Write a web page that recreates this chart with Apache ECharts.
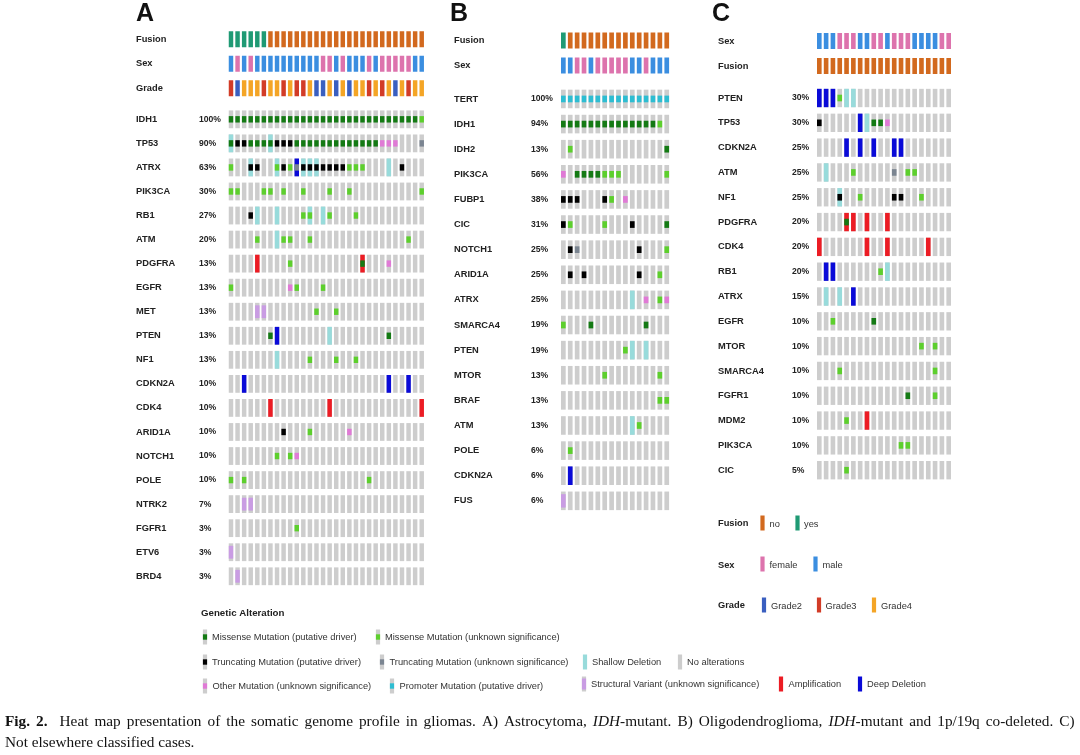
<!DOCTYPE html>
<html><head><meta charset="utf-8">
<script src="https://cdn.jsdelivr.net/npm/echarts@6/dist/echarts.min.js"></script>
<style>html,body{margin:0;padding:0;background:#fff}#c{width:1080px;height:755px}</style>
</head><body><div id="c"></div><script>
// ---------------- DATA ----------------
// Alteration codes: M missense driver, m missense unknown, T truncating driver, t truncating unknown,
// o other mutation, p promoter mutation, v structural variant, s shallow deletion, A amplification, D deep deletion
const A_genes = ['IDH1','TP53','ATRX','PIK3CA','RB1','ATM','PDGFRA','EGFR','MET','PTEN','NF1','CDKN2A','CDK4','ARID1A','NOTCH1','POLE','NTRK2','FGFR1','ETV6','BRD4'];
const A_pct = ['100%','90%','63%','30%','27%','20%','13%','13%','13%','13%','13%','10%','10%','10%','10%','10%','7%','3%','3%','3%'];
const A_alts = [
 '0:M 1:M 2:M 3:M 4:M 5:M 6:M 7:M 8:M 9:M 10:M 11:M 12:M 13:M 14:M 15:M 16:M 17:M 18:M 19:M 20:M 21:M 22:M 23:M 24:M 25:M 26:M 27:M 28:M 29:m',
 '0:sM 1:T 2:T 3:M 4:M 5:M 6:sM 7:T 8:T 9:T 10:M 11:M 12:M 13:M 14:M 15:M 16:M 17:M 18:M 19:M 20:M 21:M 22:M 23:o 24:o 25:o 29:t',
 '0:m 3:sT 4:T 7:sm 8:T 9:m 10:Dt 11:sT 12:sT 13:sT 14:T 15:T 16:T 17:T 18:m 19:m 20:m 24:s 26:T',
 '0:m 1:m 5:m 6:m 8:m 11:m 15:m 18:m 29:m',
 '3:T 4:s 7:s 11:m 12:sm 14:s 15:m 19:m',
 '4:m 7:s 8:m 9:m 12:m 27:m',
 '4:A 9:m 20:AM 24:o',
 '0:m 9:o 10:m 14:m',
 '4:v 5:v 13:m 16:m',
 '6:M 7:D 15:s 24:M',
 '7:s 12:m 16:m 19:m',
 '2:D 24:D 27:D',
 '6:A 15:A 29:A',
 '8:T 12:m 18:o',
 '7:m 9:m 10:o',
 '0:m 2:m 21:m',
 '2:v 3:v',
 '10:m',
 '0:v',
 '1:v'
];
const A_tracks = ['Fusion','Sex','Grade'];
const A_fusion = 'YYYYYYNNNNNNNNNNNNNNNNNNNNNNNN'.split('');
const A_sex    = 'MFMFMMMMMMMMMMFFMFMMMFMFFFFFMM'.split('');
const A_grade  = '324443443433422424244343424344'.split('');

const B_genes = ['TERT','IDH1','IDH2','PIK3CA','FUBP1','CIC','NOTCH1','ARID1A','ATRX','SMARCA4','PTEN','MTOR','BRAF','ATM','POLE','CDKN2A','FUS'];
const B_pct = ['100%','94%','13%','56%','38%','31%','25%','25%','25%','19%','19%','13%','13%','13%','6%','6%','6%'];
const B_alts = [
 '0:p 1:p 2:p 3:p 4:p 5:p 6:p 7:p 8:p 9:p 10:p 11:p 12:p 13:p 14:p 15:p',
 '0:M 1:M 2:M 3:M 4:M 5:M 6:M 7:M 8:M 9:M 10:M 11:M 12:M 13:M 14:m',
 '1:m 15:M',
 '0:o 2:M 3:M 4:M 5:M 6:m 7:m 8:m 15:m',
 '0:T 1:T 2:T 6:T 7:m 9:o',
 '0:T 1:m 6:m 10:T 15:M',
 '1:T 2:t 11:T 15:m',
 '1:T 3:T 11:T 14:m',
 '10:s 12:o 14:m 15:o',
 '0:m 4:M 12:M',
 '9:m 10:s 12:s',
 '6:m 14:m',
 '14:m 15:m',
 '10:s 11:m',
 '1:m',
 '1:D',
 '0:v'
];
const B_tracks = ['Fusion','Sex'];
const B_fusion = 'YNNNNNNNNNNNNNNN'.split('');
const B_sex    = 'MMFFMFFFFFMMFMMM'.split('');

const C_genes = ['PTEN','TP53','CDKN2A','ATM','NF1','PDGFRA','CDK4','RB1','ATRX','EGFR','MTOR','SMARCA4','FGFR1','MDM2','PIK3CA','CIC'];
const C_pct = ['30%','30%','25%','25%','25%','20%','20%','20%','15%','10%','10%','10%','10%','10%','10%','5%'];
const C_alts = [
 '0:D 1:D 2:D 3:m 4:s 5:s',
 '0:T 6:D 7:s 8:M 9:M 10:o',
 '4:D 6:D 8:D 11:D 12:D',
 '1:s 5:m 11:t 13:m 14:m',
 '3:sT 6:m 11:T 12:T 15:m',
 '4:AM 5:A 7:A 10:A',
 '0:A 7:A 10:A 16:A',
 '1:D 2:D 9:m 10:s',
 '1:s 3:s 5:D',
 '2:m 8:M',
 '15:m 17:m',
 '3:m 17:m',
 '13:M 17:m',
 '4:m 7:A',
 '12:m 13:m',
 '4:m'
];
const C_tracks = ['Sex','Fusion'];
const C_sex    = 'MMMFFFMMFFMFFFMMMMFF'.split('');
const C_fusion = 'NNNNNNNNNNNNNNNNNNNN'.split('');

// ---------------- STYLE ----------------
const GRAY = '#cdcdcd';
const MUT_COLORS = {M:'#147a14', m:'#5dcf2d', T:'#000000', t:'#7b8591', o:'#e07ad6', p:'#2dbdd2', v:'#c99ce3'};
const CNA_COLORS = {s:'#98dbdb', A:'#ec1c24', D:'#0a0ad8'};
const FUSION_COLORS = {Y:'#1f9a74', N:'#d2691e'};
const SEX_COLORS = {F:'#dd73ad', M:'#3b8ee0'};
const GRADE_COLORS = {'2':'#3a5fc0','3':'#d23c27','4':'#f4a526'};
const SANS = 'Liberation Sans, Arial, sans-serif';

function parseAlts(rows, ncols){
  const data=[], cells=[];
  rows.forEach((str,r)=>{
    const map={};
    str.trim().split(/\s+/).filter(Boolean).forEach(tok=>{const [c,code]=tok.split(':'); map[+c]=code;});
    for(let c=0;c<ncols;c++){
      const code=map[c]||''; let cna='',mut='';
      for(const ch of code){ if('sAD'.includes(ch)) cna=ch; else mut=ch; }
      data.push([c,r]); cells.push({cna,mut});
    }
  });
  return {data,cells};
}
function geneRender(cells){
  return function(params, api){
    const cell = cells[params.dataIndex];
    const p = api.coord([api.value(0), api.value(1)]);
    const s = api.size([1,1]);
    const w = s[0]*0.68, h = s[1]*0.74;
    const x = p[0]-w/2, y = p[1]-h/2;
    const ch = [{type:'rect', shape:{x,y,width:w,height:h}, style:{fill:GRAY}}];
    if(cell.cna) ch.push({type:'rect', shape:{x,y,width:w,height:h}, style:{fill:CNA_COLORS[cell.cna]}});
    if(cell.mut){
      const mh = cell.mut==='v' ? h*0.72 : h*0.36;
      ch.push({type:'rect', shape:{x, y:p[1]-mh/2, width:w, height:mh}, style:{fill:MUT_COLORS[cell.mut]}});
    }
    return {type:'group', children:ch};
  };
}
function trackRender(rows){
  return function(params, api){
    const c = api.value(0), r = api.value(1);
    const p = api.coord([c,r]);
    const s = api.size([1,1]);
    const w = s[0]*0.68, h = 16;
    return {type:'rect', shape:{x:p[0]-w/2, y:p[1]-h/2, width:w, height:h}, style:{fill:rows[r][1][rows[r][0][c]]}};
  };
}
function trackData(rows, ncols){
  const d=[]; rows.forEach((_,r)=>{for(let c=0;c<ncols;c++) d.push([c,r]);}); return d;
}
const range = n => Array.from({length:n},(_,i)=>i);

const panels = [
  {ncols:30, left:227.7, width:197.3, tTop:27, tH:73.5, gTop:107.3, gH:481, labW:63, margin:91.7,
   genes:A_genes, pct:A_pct, alts:A_alts, tracks:A_tracks,
   trackRows:[[A_fusion,FUSION_COLORS],[A_sex,SEX_COLORS],[A_grade,GRADE_COLORS]]},
  {ncols:16, left:559.9, width:110.3, tTop:28, tH:50, gTop:86.4, gH:427, labW:77, margin:105.9,
   genes:B_genes, pct:B_pct, alts:B_alts, tracks:B_tracks,
   trackRows:[[B_fusion,FUSION_COLORS],[B_sex,SEX_COLORS]]},
  {ncols:20, left:815.9, width:136.2, tTop:28.5, tH:50, gTop:85.6, gH:397, labW:74, margin:97.9,
   genes:C_genes, pct:C_pct, alts:C_alts, tracks:C_tracks,
   trackRows:[[C_sex,SEX_COLORS],[C_fusion,FUSION_COLORS]]}
];

const grid=[], xAxis=[], yAxis=[], series=[];
panels.forEach((P)=>{
  const ti = grid.length;
  grid.push({left:P.left, top:P.tTop, width:P.width, height:P.tH});
  grid.push({left:P.left, top:P.gTop, width:P.width, height:P.gH});
  [ti, ti+1].forEach(gi=>xAxis.push({type:'category', gridIndex:gi, data:range(P.ncols), show:false}));
  yAxis.push({type:'category', gridIndex:ti, data:P.tracks, inverse:true,
    axisLine:{show:false}, axisTick:{show:false}, splitLine:{show:false},
    axisLabel:{interval:0, align:'left', margin:P.margin, fontFamily:SANS, fontWeight:'bold', fontSize:9.3, color:'#222'}});
  yAxis.push({type:'category', gridIndex:ti+1, data:P.genes, inverse:true,
    axisLine:{show:false}, axisTick:{show:false}, splitLine:{show:false},
    axisLabel:{interval:0, align:'left', margin:P.margin,
      formatter:(v,i)=>'{g|'+v+'}{p|'+P.pct[i]+'}',
      rich:{g:{width:P.labW, fontFamily:SANS, fontWeight:'bold', fontSize:9.3, color:'#222'},
            p:{fontFamily:SANS, fontWeight:'bold', fontSize:8.6, color:'#222'}}}});
  series.push({type:'custom', xAxisIndex:ti, yAxisIndex:ti, silent:true, animation:false, clip:false,
    data:trackData(P.trackRows, P.ncols), renderItem:trackRender(P.trackRows)});
  const parsed = parseAlts(P.alts, P.ncols);
  series.push({type:'custom', xAxisIndex:ti+1, yAxisIndex:ti+1, silent:true, animation:false, clip:false,
    data:parsed.data, renderItem:geneRender(parsed.cells)});
});

// ---------------- LEGENDS / TEXT ----------------
const graphic = [];
function txt(x,y,t,opt){ graphic.push({type:'text', x, y, silent:true, style:Object.assign({text:t, fill:'#222', fontFamily:SANS, fontSize:9.3, verticalAlign:'middle', align:'left'}, opt||{})}); }
function icon(x,y,kind,color){
  const w=4.2, h=15;
  const ch=[{type:'rect', shape:{x:x-w/2,y:y-h/2,width:w,height:h}, style:{fill: kind==='full'?color:GRAY}}];
  if(kind==='mut') ch.push({type:'rect', shape:{x:x-w/2,y:y-2.7,width:w,height:5.4}, style:{fill:color}});
  if(kind==='sv') ch.push({type:'rect', shape:{x:x-w/2,y:y-5.5,width:w,height:11}, style:{fill:color}});
  graphic.push({type:'group', silent:true, children:ch});
}
['A','B','C'].forEach((L,i)=>txt([145,459,721][i], 14, L, {fontSize:25, fontWeight:'bold', align:'center', fill:'#111'}));

txt(201, 613, 'Genetic Alteration', {fontWeight:'bold', fontSize:9.7});
const legItems = [
  [205,637,'mut',MUT_COLORS.M,212,'Missense Mutation (putative driver)'],
  [378,637,'mut',MUT_COLORS.m,385,'Missense Mutation (unknown significance)'],
  [205,662,'mut',MUT_COLORS.T,212,'Truncating Mutation (putative driver)'],
  [382,662,'mut',MUT_COLORS.t,389.5,'Truncating Mutation (unknown significance)'],
  [585,662,'full',CNA_COLORS.s,592,'Shallow Deletion'],
  [680,662,'none',GRAY,687,'No alterations'],
  [205,686,'mut',MUT_COLORS.o,212.5,'Other Mutation (unknown significance)'],
  [392,686,'mut',MUT_COLORS.p,399.5,'Promoter Mutation (putative driver)'],
  [584,684,'sv',MUT_COLORS.v,591,'Structural Variant (unknown significance)'],
  [781,684,'full',CNA_COLORS.A,788.5,'Amplification'],
  [860,684,'full',CNA_COLORS.D,867,'Deep Deletion']
];
legItems.forEach(it=>{ icon(it[0],it[1],it[2],it[3]); txt(it[4],it[1],it[5],{fill:'#333'}); });

txt(718, 523, 'Fusion', {fontWeight:'bold'});
txt(718, 565, 'Sex', {fontWeight:'bold'});
txt(718, 605, 'Grade', {fontWeight:'bold'});
const clinLeg = [
  [762.5,523,FUSION_COLORS.N,769.5,'no'],[797.5,523,FUSION_COLORS.Y,804,'yes'],
  [762.5,564,SEX_COLORS.F,769.5,'female'],[815.5,564,SEX_COLORS.M,822.5,'male'],
  [764,605,GRADE_COLORS['2'],771,'Grade2'],[819,605,GRADE_COLORS['3'],825.5,'Grade3'],[874,605,GRADE_COLORS['4'],881,'Grade4']
];
clinLeg.forEach(it=>{ icon(it[0],it[1],'full',it[2]); txt(it[3],it[1]+1,it[4],{fill:'#333'}); });

// Caption (first line is justified in the original: widen inter-word spaces)
const SERIF = 'Liberation Serif, Times New Roman, serif';
const capLine1 = '{b|Fig.} {b|2.}  Heat map presentation of the somatic genome profile in gliomas. A) Astrocytoma, {i|IDH}-mutant. B) Oligodendroglioma, {i|IDH}-mutant and 1p/19q co-deleted. C)';
const capLine2 = 'Not elsewhere classified cases.';
const capText1 = capLine1.replace(/ /g, '{s| }');
const capStyle = {fontFamily:SERIF, fontSize:15.3, fill:'#111'};
graphic.push({type:'text', x:5, y:722, silent:true, style:Object.assign({
  text:capText1, verticalAlign:'middle',
  rich:{b:Object.assign({fontWeight:'bold'},capStyle), i:Object.assign({fontStyle:'italic'},capStyle),
        s:Object.assign({width:6.0},capStyle)}}, capStyle)});
graphic.push({type:'text', x:5, y:743, silent:true, style:Object.assign({text:capLine2, verticalAlign:'middle'}, capStyle)});

const chart = echarts.init(document.getElementById('c'), null, {renderer:'canvas'});
chart.setOption({backgroundColor:'#fff', animation:false, grid, xAxis, yAxis, series, graphic});
</script></body></html>
